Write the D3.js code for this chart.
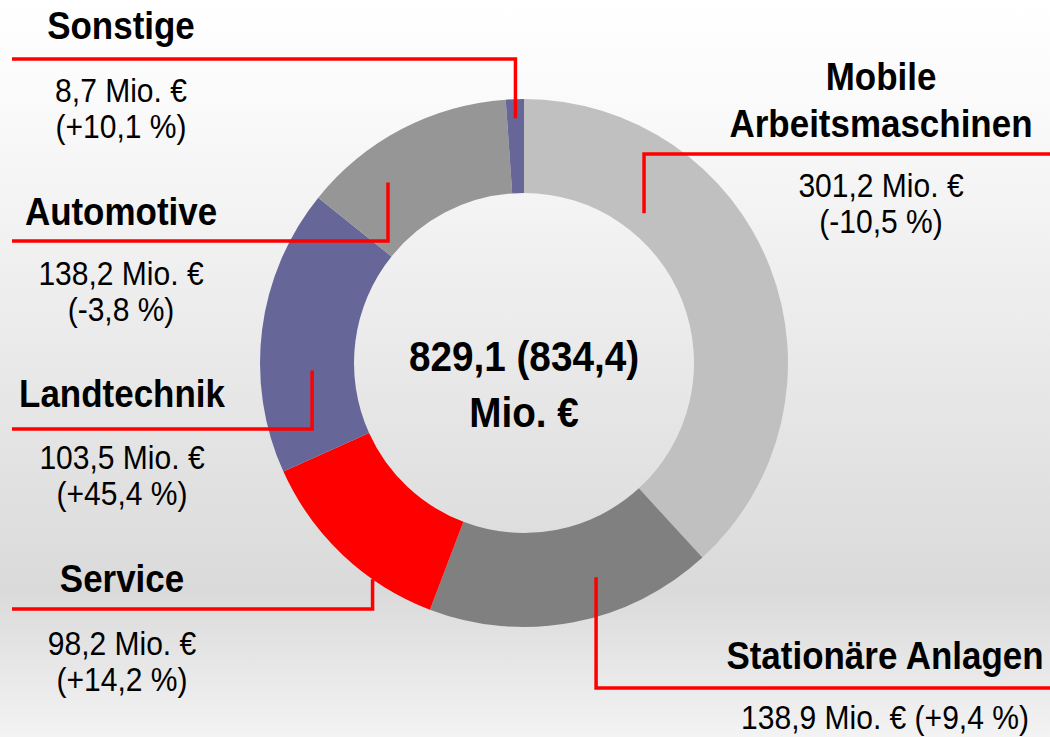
<!DOCTYPE html>
<html>
<head>
<meta charset="utf-8">
<script src="https://cdn.jsdelivr.net/npm/d3@7"></script>
<style>
  html, body { margin: 0; padding: 0; overflow: hidden; }
  svg text { font-family: "Liberation Sans", Arial, sans-serif; fill: #000; }
</style>
</head>
<body>
<div id="chart"></div>
<script>
// slices, clockwise from 12 o'clock (as drawn in the original)
var sliceNames  = ["Mobile Arbeitsmaschinen", "Stationäre Anlagen", "Service", "Automotive", "Landtechnik", "Sonstige"];
var sliceValues = [301.2, 138.9, 98.2, 138.2, 103.5, 8.7];
var sliceColors = ["#c0c0c0", "#808080", "#ff0000", "#666699", "#969696", "#666699"];

// label texts
var labelTitles  = [["Sonstige"], ["Automotive"], ["Landtechnik"], ["Service"], ["Mobile", "Arbeitsmaschinen"], ["Stationäre Anlagen"]];
var labelValues  = ["8,7 Mio. €", "138,2 Mio. €", "103,5 Mio. €", "98,2 Mio. €", "301,2 Mio. €", "138,9 Mio. €"];
var labelChanges = ["(+10,1 %)", "(-3,8 %)", "(+45,4 %)", "(+14,2 %)", "(-10,5 %)", "(+9,4 %)"];

var totalText = "829,1 (834,4)";
var totalUnit = "Mio. €";

var width = 1050, height = 737;
var cx = 524, cy = 363, outerR = 264, innerR = 170;

var svg = d3.select("#chart").append("svg")
    .attr("width", width)
    .attr("height", height);

// background gradient
var grad = svg.append("defs").append("linearGradient")
    .attr("id", "bg")
    .attr("x1", 0).attr("y1", 0).attr("x2", 0).attr("y2", 1);
grad.append("stop").attr("offset", "0%").attr("stop-color", "#ffffff");
grad.append("stop").attr("offset", "12%").attr("stop-color", "#fbfbfb");
grad.append("stop").attr("offset", "80%").attr("stop-color", "#dadada");
grad.append("stop").attr("offset", "100%").attr("stop-color", "#f3f3f3");

svg.append("rect")
    .attr("width", width)
    .attr("height", height)
    .attr("fill", "url(#bg)");

var g = svg.append("g")
    .attr("transform", "translate(" + cx + "," + cy + ")");

var pie = d3.pie().sort(null).value(function(d) { return d; });
var arc = d3.arc().innerRadius(innerR).outerRadius(outerR);

g.selectAll(".slice")
    .data(pie(sliceValues))
  .enter().append("path")
    .attr("class", "slice")
    .attr("d", arc)
    .attr("fill", function(d, i) { return sliceColors[i]; });

// condensed look: Liberation Sans squeezed horizontally
function narrowText(x, y, txt, size, bold, sx) {
  svg.append("g")
      .attr("transform", "translate(" + x + "," + y + ") scale(" + sx + ",1)")
    .append("text")
      .attr("text-anchor", "middle")
      .style("font-size", size + "px")
      .style("font-weight", bold ? "bold" : "normal")
      .text(txt);
}

// label layout: title centre x, title baseline (last line), line y, line start x, anchor angle (deg) / radius, value baseline
var labels = [
  {x: 121, ty: 39,  ly: 59,  lx0: 12,   ang: 358,   r: 245, vy: 102},
  {x: 121, ty: 225, ly: 241, lx0: 12,   ang: 323,   r: 226, vy: 285},
  {x: 122, ty: 407, ly: 429, lx0: 12,   ang: 268,   r: 212, vy: 469},
  {x: 122, ty: 592, ly: 609, lx0: 12,   ang: 215,   r: 264, vy: 655},
  {x: 881, ty: 137, ly: 154, lx0: 1050, ang: 38.7,  r: 192, vy: 197},
  {x: 885, ty: 669, ly: 688, lx0: 1050, ang: 161.4, r: 226, vy: 729}
];

labels.forEach(function(l, i) {
  var p = d3.pointRadial(l.ang * Math.PI / 180, l.r);
  var ax = cx + p[0], ay = cy + p[1];

  svg.append("path")
      .attr("d", "M" + l.lx0 + "," + l.ly + "H" + ax + "V" + ay)
      .attr("fill", "none")
      .attr("stroke", "#ff0000")
      .attr("stroke-width", 3.5);

  labelTitles[i].forEach(function(t, j) {
    narrowText(l.x, l.ty - (labelTitles[i].length - 1 - j) * 47, t, 38, true, 0.92);
  });

  if (i === 5) {
    narrowText(l.x, l.vy, labelValues[i] + " " + labelChanges[i], 33, false, 0.91);
  } else {
    narrowText(l.x, l.vy, labelValues[i], 33, false, 0.91);
    narrowText(l.x, l.vy + 36, labelChanges[i], 33, false, 0.91);
  }
});

// centre total
narrowText(cx, 371, totalText, 43, true, 0.9);
narrowText(cx, 427, totalUnit, 43, true, 0.9);
</script>
</body>
</html>
